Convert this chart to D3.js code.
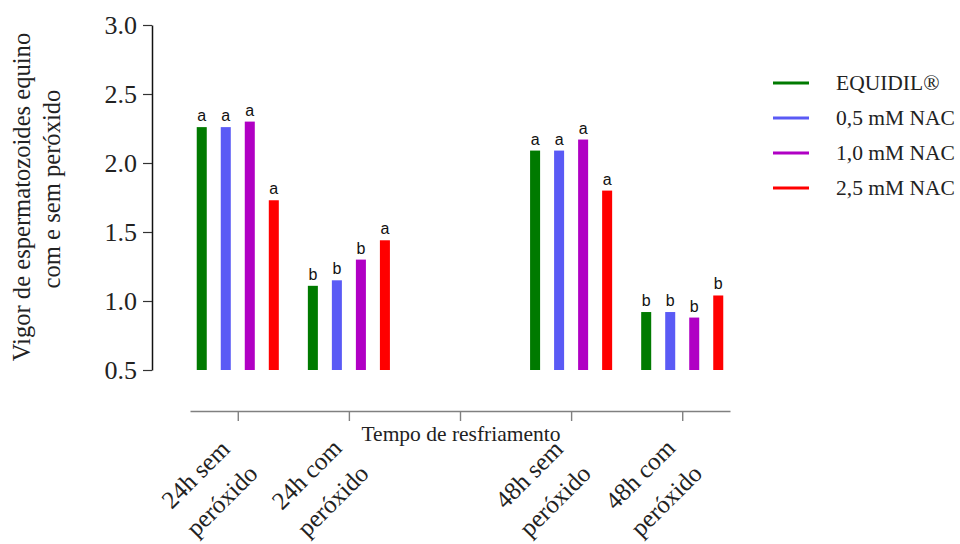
<!DOCTYPE html>
<html>
<head>
<meta charset="utf-8">
<script src="https://cdn.jsdelivr.net/npm/d3@7"></script>
<style>
  body { margin: 0; background: #fff; }
  .serif { font-family: "Liberation Serif", "Times New Roman", serif; fill: #222; }
</style>
</head>
<body>
<div class="visualizate"></div>
<script>
'use strict'

let width = 960;
let height = 544;

const categories = ['24h sem peróxido', '24h com peróxido', '', '48h sem peróxido', '48h com peróxido'];
const tickLines = [['24h sem', 'peróxido'], ['24h com', 'peróxido'], [], ['48h sem', 'peróxido'], ['48h com', 'peróxido']];
const series = ['EQUIDIL®', '0,5 mM NAC', '1,0 mM NAC', '2,5 mM NAC'];
const colors = ['#007a00', '#5a5af5', '#b000c4', '#ff0000'];

/* one row per group (only the filled categories), one value per series */
const groups = ['24h sem peróxido', '24h com peróxido', '48h sem peróxido', '48h com peróxido'];
const equidil = [2.26, 1.11, 2.09, 0.92];
const nac05   = [2.26, 1.15, 2.09, 0.92];
const nac10   = [2.30, 1.30, 2.17, 0.88];
const nac25   = [1.73, 1.44, 1.80, 1.04];
const letters = [['a', 'a', 'a', 'a'], ['b', 'b', 'b', 'a'], ['a', 'a', 'a', 'a'], ['b', 'b', 'b', 'b']];
const yTicks = [0.5, 1.0, 1.5, 2.0, 2.5, 3.0];

const values = [equidil, nac05, nac10, nac25];

const bars = [];
groups.forEach((g, gi) => {
    series.forEach((s, si) => {
        bars.push({ group: g, serie: s, value: values[si][gi], letter: letters[gi][si], color: colors[si] });
    });
});

const svg = d3.select('.visualizate')
              .append('svg')
              .attr('width', width)
              .attr('height', height);

/* Y AXIS */
const yScale = d3.scaleLinear()
                 .domain([0.5, 3.0])
                 .range([370, 25]);
const yAxis = d3.axisLeft(yScale)
                .tickValues(yTicks)
                .tickFormat(d3.format('.1f'))
                .tickSize(9)
                .tickSizeOuter(0)
                .tickPadding(6);

const gy = svg.append('g')
   .attr('transform', 'translate(152,0)')
   .call(yAxis);
gy.select('.domain').attr('stroke', '#111').attr('stroke-width', 1.5);
gy.selectAll('.tick line').attr('stroke', '#333').attr('stroke-width', 1.2);
gy.selectAll('.tick text')
  .attr('class', 'serif')
  .style('font-size', '26px')
  .attr('dy', '0.34em');

/* X AXIS */
const xScale = d3.scalePoint()
                 .domain(categories)
                 .range([190, 730])
                 .padding(0.43);
const inner = d3.scaleBand()
                .domain(series)
                .range([-48, 48])
                .paddingInner(0.583)
                .paddingOuter(0.29);

const xAxis = d3.axisBottom(xScale).tickSize(10).tickSizeOuter(0).tickFormat('');
const gx = svg.append('g')
   .attr('transform', 'translate(0,411)')
   .call(xAxis);
gx.select('.domain').attr('stroke', '#808080').attr('stroke-width', 1.6);
gx.selectAll('.tick line').attr('stroke', '#808080').attr('stroke-width', 1.4);

gx.selectAll('.tick').each(function (d, i) {
    const lines = tickLines[i];
    if (!lines.length) return;
    const t = d3.select(this).append('text')
        .attr('class', 'serif')
        .attr('text-anchor', 'middle')
        .attr('transform', 'rotate(-45)')
        .style('font-size', '25px');
    t.append('tspan').attr('x', -75).attr('y', 23).text(lines[0]);
    t.append('tspan').attr('x', -75).attr('y', 60).text(lines[1]);
});

svg.append('text')
   .attr('class', 'serif')
   .attr('x', 461)
   .attr('y', 441)
   .attr('text-anchor', 'middle')
   .style('font-size', '21.5px')
   .text('Tempo de resfriamento');

/* Y TITLE */
svg.append('text')
   .attr('class', 'serif')
   .attr('transform', 'translate(30,197) rotate(-90)')
   .attr('text-anchor', 'middle')
   .style('font-size', '24.6px')
   .text('Vigor de espermatozoides equino');
svg.append('text')
   .attr('class', 'serif')
   .attr('transform', 'translate(60,189) rotate(-90)')
   .attr('text-anchor', 'middle')
   .style('font-size', '24.6px')
   .text('com e sem peróxido');

/* BARS */
svg.selectAll('rect.bar')
   .data(bars)
   .enter()
   .append('rect')
   .attr('class', 'bar')
   .attr('x', d => xScale(d.group) + inner(d.serie))
   .attr('y', d => yScale(d.value))
   .attr('width', inner.bandwidth())
   .attr('height', d => yScale(0.5) - yScale(d.value))
   .style('fill', d => d.color);

svg.selectAll('text.letter')
   .data(bars)
   .enter()
   .append('text')
   .attr('class', 'letter')
   .attr('x', d => xScale(d.group) + inner(d.serie) + inner.bandwidth() / 2)
   .attr('y', d => yScale(d.value) - 6)
   .attr('text-anchor', 'middle')
   .style('font-family', '"Liberation Sans", Arial, sans-serif')
   .style('font-size', '16px')
   .style('fill', '#111')
   .text(d => d.letter);

/* LEGEND */
const legend = svg.append('g').attr('transform', 'translate(773,83)');
series.forEach((s, i) => {
    const row = legend.append('g').attr('transform', 'translate(0,' + (i * 35) + ')');
    row.append('line')
       .attr('x1', 0).attr('x2', 36)
       .attr('y1', 0).attr('y2', 0)
       .attr('stroke', colors[i])
       .attr('stroke-width', 3);
    row.append('text')
       .attr('class', 'serif')
       .attr('x', 63)
       .attr('y', 7)
       .style('font-size', '21.5px')
       .text(s);
});
</script>
</body>
</html>
